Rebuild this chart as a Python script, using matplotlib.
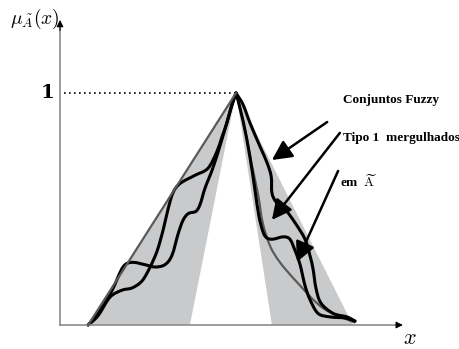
import matplotlib
matplotlib.use("Agg")
import numpy as np
import matplotlib.pyplot as plt
from matplotlib.path import Path
from matplotlib.patches import PathPatch

plt.rcParams['mathtext.fontset'] = 'cm'

# footprint of the interval type-2 set (shaded)
fou_left_x = [0.80, 5.00, 3.69]
fou_left_y = [0.0, 1.0, 0.0]
fou_right_x = [5.00, 6.02, 8.32]
fou_right_y = [1.0, 0.0, 0.0]

# principal (gray) membership function
gray_left_x = [0.80, 5.00]
gray_left_y = [0.0, 1.0]
gray_right_x = [5.00, 5.26, 5.45, 5.63, 5.76, 5.97, 6.25, 6.73, 7.47, 8.38]
gray_right_y = [1.0, 0.84, 0.69, 0.56, 0.44, 0.34, 0.27, 0.185, 0.073, 0.01]

# embedded type-1 sets, left side
p_x = [0.80, 1.14, 1.48, 1.79, 2.05, 2.41, 2.70, 2.98, 3.18, 3.35, 3.49, 3.64, 3.86,
       3.98, 4.12, 4.35, 4.60, 4.83, 5.00]
p_y = [0.0, 0.065, 0.15, 0.25, 0.27, 0.26, 0.25, 0.26, 0.30, 0.39, 0.45, 0.48, 0.49,
       0.52, 0.59, 0.68, 0.80, 0.92, 1.0]
q_x = [0.80, 1.08, 1.42, 1.76, 2.05, 2.33, 2.56, 2.76, 2.93, 3.07, 3.21, 3.41, 3.83,
       4.20, 4.45, 4.60, 4.74, 4.88, 5.00]
q_y = [0.0, 0.04, 0.12, 0.15, 0.16, 0.19, 0.25, 0.32, 0.41, 0.50, 0.57, 0.61, 0.645,
       0.675, 0.745, 0.81, 0.87, 0.95, 1.0]

# embedded type-1 sets, right side
r2_x = [5.00, 5.20, 5.40, 5.54, 5.65, 5.77, 5.88, 6.05, 6.34, 6.53, 6.68, 6.82, 6.96,
        7.10, 7.33, 7.67, 8.10, 8.38]
r2_y = [1.0, 0.88, 0.72, 0.58, 0.47, 0.40, 0.375, 0.37, 0.38, 0.37, 0.32, 0.26, 0.17,
        0.11, 0.05, 0.035, 0.03, 0.017]
r1_x = [5.00, 5.20, 5.40, 5.68, 5.88, 6.00, 6.02, 6.14, 6.39, 6.68, 6.96, 7.10, 7.19,
        7.27, 7.41, 7.76, 8.15, 8.38]
r1_y = [1.0, 0.95, 0.87, 0.77, 0.70, 0.64, 0.57, 0.53, 0.50, 0.44, 0.37, 0.30, 0.24,
        0.16, 0.095, 0.05, 0.035, 0.017]

labels = ["Conjuntos Fuzzy", "Tipo 1  mergulhados", r"em  $\widetilde{\mathrm{A}}$"]
label_x = [8.04, 8.04, 7.95]
label_y = [0.97, 0.806, 0.616]
arrow_tail = [(7.59, 0.875), (7.95, 0.828), (7.90, 0.664)]
arrow_tip = [(6.02, 0.711), (6.02, 0.453), (6.73, 0.272)]


def smooth_path(xs, ys):
    # Catmull-Rom through the points, drawn as cubic Bezier segments
    pts = np.column_stack([xs, ys])
    verts = [pts[0]]
    codes = [Path.MOVETO]
    n = len(pts)
    for i in range(n - 1):
        p0 = pts[max(i - 1, 0)]
        p1 = pts[i]
        p2 = pts[i + 1]
        p3 = pts[min(i + 2, n - 1)]
        verts += [p1 + (p2 - p0) / 6, p2 - (p3 - p1) / 6, p2]
        codes += [Path.CURVE4] * 3
    return Path(verts, codes)


fig = plt.figure(figsize=(4.59, 3.49), dpi=100)
ax = fig.add_axes([0, 0, 1, 1])
ax.set_xlim(-1.705, 11.335)
ax.set_ylim(-0.1034, 1.4009)
ax.axis('off')

shade = '#c9cacc'
ax.fill(fou_left_x, fou_left_y, color=shade, lw=0)
ax.fill(fou_right_x, fou_right_y, color=shade, lw=0)

# axes with arrows
ax.plot([0, 0], [0, 1.29], color='#8c8c8c', lw=1.2)
ax.plot([0, 9.6], [0, 0], color='#8c8c8c', lw=1.2)
ax.annotate('', xy=(0, 1.315), xytext=(0, 1.27),
            arrowprops=dict(arrowstyle='-|>', color='black', lw=0.8, mutation_scale=10,
                            shrinkA=0, shrinkB=0))
ax.annotate('', xy=(9.74, 0), xytext=(9.55, 0),
            arrowprops=dict(arrowstyle='-|>', color='black', lw=0.8, mutation_scale=10,
                            shrinkA=0, shrinkB=0))

ax.plot([0.1, 5.0], [1.0, 1.0], color='black', lw=1.2, ls=(0, (1, 2)))

ax.plot(gray_left_x, gray_left_y, color='#5a5a5a', lw=1.6)
ax.add_patch(PathPatch(smooth_path(gray_right_x, gray_right_y), fill=False,
                       edgecolor='#5a5a5a', lw=1.6))
for xs, ys in [(p_x, p_y), (q_x, q_y), (r1_x, r1_y), (r2_x, r2_y)]:
    ax.add_patch(PathPatch(smooth_path(xs, ys), fill=False, edgecolor='black',
                           lw=2.2, capstyle='round', joinstyle='round'))

ax.text(-0.37, 1.0, '1', fontsize=14, fontweight='bold', family='DejaVu Serif',
        ha='center', va='center')
ax.text(-1.42, 1.32, r'$\mu_{\tilde{A}}(x)$', fontsize=14, ha='left', va='center')
ax.text(9.95, -0.055, r'$x$', fontsize=16, ha='center', va='center')

for s, tx, ty in zip(labels, label_x, label_y):
    ax.text(tx, ty, s, fontsize=9.5, fontweight='bold', family='Liberation Serif',
            ha='left', va='center')

for tail, tip in zip(arrow_tail, arrow_tip):
    ax.annotate('', xy=tip, xytext=tail,
                arrowprops=dict(arrowstyle='-|>,head_length=0.6,head_width=0.3',
                                color='black', lw=1.8, mutation_scale=20,
                                shrinkA=0, shrinkB=0))

fig.savefig('out.png', dpi=100)
